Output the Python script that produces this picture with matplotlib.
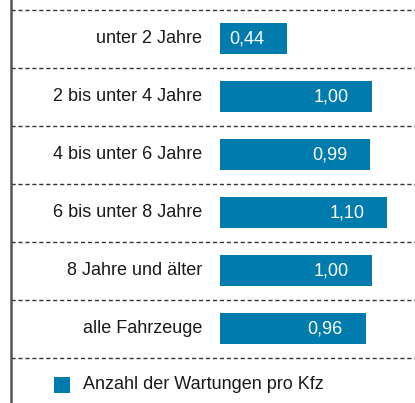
import numpy as np
import matplotlib
matplotlib.use('Agg')
import matplotlib.pyplot as plt

plt.rcParams['font.family'] = ['Liberation Sans Narrow', 'Liberation Sans', 'DejaVu Sans']

categories = ['unter 2 Jahre', '2 bis unter 4 Jahre', '4 bis unter 6 Jahre',
              '6 bis unter 8 Jahre', '8 Jahre und älter', 'alle Fahrzeuge']
values = [0.44, 1.00, 0.99, 1.10, 1.00, 0.96]
value_labels = ['0,44', '1,00', '0,99', '1,10', '1,00', '0,96']
legend_label = 'Anzahl der Wartungen pro Kfz'

bar_color = '#007bad'
px = 1 / 152  # one pixel in data units (1.00 = 152 px)

fig = plt.figure(figsize=(4.15, 4.03), dpi=100)
ax = fig.add_axes([0, 0, 1, 1])
ax.set_xlim(-220 * px, 195 * px)
ax.set_ylim(6.284, -0.664)
ax.axis('off')

y = np.arange(len(categories))
ax.barh(y, values, height=31 / 58, color=bar_color)

for i, (v, lab) in enumerate(zip(values, value_labels)):
    ax.text(v - 23 * px, i, lab, ha='right', va='center', color='white', fontsize=13)
    ax.text(-18 * px, i, categories[i], ha='right', va='center', color='#1a1a1a', fontsize=13)

# dashed separators and left rule
ax.hlines(np.arange(len(categories) + 1) - 0.5, -209 * px, 195 * px,
          colors='#333333', linestyles=(0, (3, 2)), linewidth=1)
ax.axvline(-209 * px, color='#555555', linewidth=1.8)

# legend
ax.barh(5.97, 16 * px, height=16 / 58, left=-166 * px, color=bar_color)
ax.text(-137 * px, 5.97, legend_label, ha='left', va='center', color='#1a1a1a', fontsize=13)

fig.savefig('out.png', dpi=100)
